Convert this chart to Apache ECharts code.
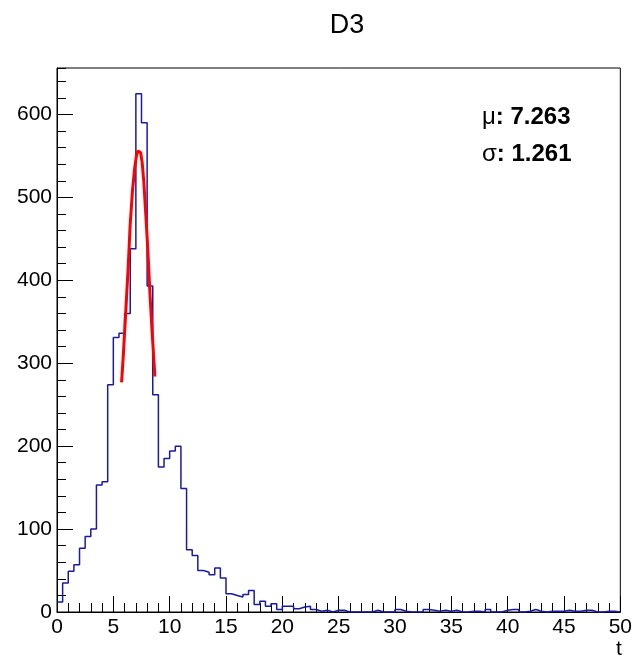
<!DOCTYPE html>
<html>
<head>
<meta charset="utf-8">
<script src="https://cdn.jsdelivr.net/npm/echarts@6/dist/echarts.min.js"></script>
<style>
html,body{margin:0;padding:0;background:#fff;}
#chart{width:635px;height:658px;}
</style>
</head>
<body>
<div id="chart"></div>
<script>
// ---- data ----
const histTitle = "D3";
const xTitle = "t";
const binStart = 0;
const binWidth = 0.5;
const counts = [
  12, 35, 49, 57, 77, 91, 100, 153, 157, 274,
  331, 336, 360, 438, 625, 590, 393, 262, 175, 185,
  194, 200, 149, 75, 68, 50, 48, 45, 53, 41,
  22, 20, 18, 21, 26, 9, 13, 7, 10, 3,
  7, 7, 4, 6, 7, 3, 1, 2, 0, 2,
  2, 0, 0, 0, 0, 0, 2, 0, 0, 0,
  3, 1, 0, 0, 0, 3, 2, 1, 2, 1,
  2, 0, 0, 1, 1, 0, 3, 0, 0, 2,
  3, 3, 0, 1, 3, 1, 0, 1, 1, 1,
  2, 1, 1, 2, 2, 0, 0, 1, 1, 0
];
// red fit curve
const fitT =     [5.73, 5.88, 6.11, 6.32, 6.49, 6.70, 6.90, 7.05, 7.18, 7.30, 7.42, 7.56, 7.70, 7.87, 8.05, 8.25, 8.45, 8.69];
const fitCount = [277,  308,  364,  416,  466,  508,  536,  550,  556,  558,  554,  542,  520,  482,  440,  384,  336,  284];
const statMu = "7.263";
const statSigma = "1.261";
const xMin = 0, xMax = 50, xMajor = 5;
const yMin = 0, yMax = 656, yMajor = 100, yMinor = 20;

// ---- build chart ----
const histData = counts.map((c, i) => [binStart + i * binWidth, c]);
histData.push([binStart + counts.length * binWidth, counts[counts.length - 1]]);
const fitData = fitT.map((t, i) => [t, fitCount[i]]);

const FONT = '"Liberation Sans", Arial, Helvetica, sans-serif';
const chart = echarts.init(document.getElementById('chart'), null, {renderer: 'canvas'});
chart.setOption({
  animation: false,
  backgroundColor: '#ffffff',
  title: {
    text: histTitle,
    left: 342, top: 7,
    textAlign: 'center',
    textStyle: {fontFamily: FONT, fontSize: 27, fontWeight: 'normal', color: '#000'}
  },
  grid: {
    left: 57, top: 68, width: 569, height: 544,
    show: true, borderColor: '#000', borderWidth: 1, backgroundColor: 'transparent'
  },
  xAxis: {
    type: 'value', min: xMin, max: xMax, interval: xMajor,
    axisLine: {show: true, lineStyle: {color: '#000', width: 1}},
    axisTick: {show: true, inside: true, length: 16, lineStyle: {color: '#000', width: 1}},
    minorTick: {show: true, splitNumber: 5, length: 9, lineStyle: {color: '#000', width: 1}},
    splitLine: {show: false},
    axisLabel: {fontFamily: FONT, fontSize: 21, color: '#000', margin: 5, showMaxLabel: true, showMinLabel: true}
  },
  yAxis: [
    {
      type: 'value', min: yMin, max: yMax, interval: yMajor,
      axisLine: {show: true, lineStyle: {color: '#000', width: 1}},
      axisTick: {show: true, inside: true, length: 16, lineStyle: {color: '#000', width: 1}},
      splitLine: {show: false},
      axisLabel: {fontFamily: FONT, fontSize: 21, color: '#000', margin: 5, showMaxLabel: false}
    },
    {
      type: 'value', min: yMin, max: yMax, interval: yMinor, position: 'left',
      axisLine: {show: false},
      axisTick: {show: true, inside: true, length: 9, lineStyle: {color: '#000', width: 1}},
      splitLine: {show: false},
      axisLabel: {show: false}
    }
  ],
  graphic: [
    {
      type: 'text', left: 616, top: 639,
      style: {text: xTitle, fontFamily: FONT, fontSize: 21, fill: '#000'}
    },
    {
      type: 'text', left: 482, top: 105,
      style: {
        text: '{r|μ}{b|: ' + statMu + '}',
        rich: {
          r: {fontFamily: FONT, fontSize: 24, fill: '#000', fontWeight: 'normal'},
          b: {fontFamily: FONT, fontSize: 24, fill: '#000', fontWeight: 'bold'}
        }
      }
    },
    {
      type: 'text', left: 482, top: 142,
      style: {
        text: '{r|σ}{b|: ' + statSigma + '}',
        rich: {
          r: {fontFamily: FONT, fontSize: 24, fill: '#000', fontWeight: 'normal'},
          b: {fontFamily: FONT, fontSize: 24, fill: '#000', fontWeight: 'bold'}
        }
      }
    }
  ],
  series: [
    {
      type: 'line', data: histData, step: 'end', yAxisIndex: 0,
      symbol: 'none', lineStyle: {color: '#1a1aa6', width: 1.5}, z: 2
    },
    {
      type: 'line', data: fitData, yAxisIndex: 0,
      symbol: 'none', smooth: false, lineStyle: {color: '#ff0000', width: 3}, z: 3
    }
  ]
});
</script>
</body>
</html>
